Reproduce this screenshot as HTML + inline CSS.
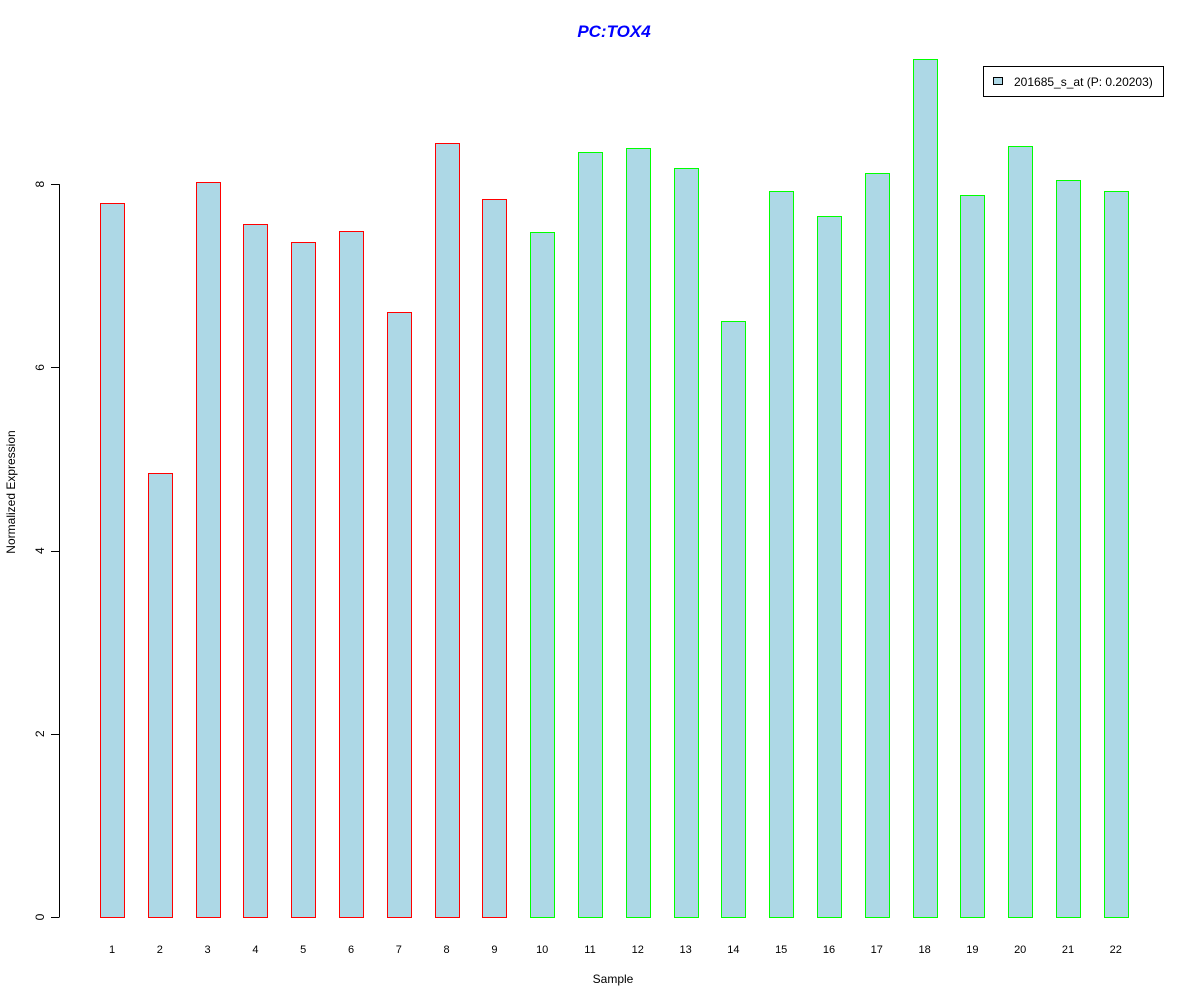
<!DOCTYPE html>
<html><head><meta charset="utf-8"><style>body{margin:0;background:#fff}svg{display:block}text{font-family:"Liberation Sans",sans-serif}</style></head>
<body>
<svg id="chart" width="1200" height="1000" xmlns="http://www.w3.org/2000/svg">
<text x="614" y="37" text-anchor="middle" font-size="17" font-weight="bold" font-style="italic" fill="#0000ff">PC:TOX4</text>
<text x="613" y="983" text-anchor="middle" font-size="12">Sample</text>
<text transform="translate(15,492) rotate(-90)" text-anchor="middle" font-size="12">Normalized Expression</text>
<g id="yaxis"></g>
<g id="bars"></g>
<g id="xlabels"></g>
<g>
<rect x="983.5" y="66.5" width="180" height="30" fill="#fff" stroke="#000"/>
<rect x="993.5" y="77.5" width="9" height="7" fill="#add8e6" stroke="#000"/>
<text x="1014" y="86" font-size="12">201685_s_at (P: 0.20203)</text>
</g>
</svg>
<script>
const categories=["1","2","3","4","5","6","7","8","9","10","11","12","13","14","15","16","17","18","19","20","21","22"];
const values=[7.79,4.85,8.02,7.57,7.37,7.49,6.60,8.45,7.84,7.48,8.35,8.40,8.18,6.51,7.93,7.65,8.12,9.37,7.88,8.42,8.05,7.93];
const groups=["a","a","a","a","a","a","a","a","a","b","b","b","b","b","b","b","b","b","b","b","b","b"];
const yTicks=[0,2,4,6,8];
const NS="http://www.w3.org/2000/svg";
const y=v=>917-v*91.6;
const xl=i=>100+i*47.8;
const bw=24;
const colors={a:"#ff0000",b:"#00ff00"};
function mk(tag,attrs,parent){const e=document.createElementNS(NS,tag);for(const k in attrs)e.setAttribute(k,attrs[k]);parent.appendChild(e);return e;}
const ya=document.getElementById('yaxis');
const axl=mk('line',{x1:59.5,x2:59.5,y1:y(0),y2:y(8),stroke:'#000'},ya);


yTicks.forEach(t=>{
 const l=mk('line',{x1:51,x2:59.5,y1:Math.round(y(t))+0.5,y2:Math.round(y(t))+0.5,stroke:'#000'},ya);
 
 
 const tx=mk('text',{transform:`translate(44,${y(t)}) rotate(-90)`,'text-anchor':'middle','font-size':12},ya);
 
 
 tx.textContent=t;
});
const bg=document.getElementById('bars'),xg=document.getElementById('xlabels');
values.forEach((v,i)=>{
 const r=mk('rect',{x:Math.round(xl(i))+0.5,y:Math.round(y(v))+0.5,width:bw,height:Math.round(y(0))-Math.round(y(v)),fill:'#add8e6',stroke:colors[groups[i]]},bg);
 
 
 const t=mk('text',{x:xl(i)+bw/2,y:953,'text-anchor':'middle','font-size':11},xg);
 
 
 t.textContent=categories[i];
});
</script>
</body></html>
